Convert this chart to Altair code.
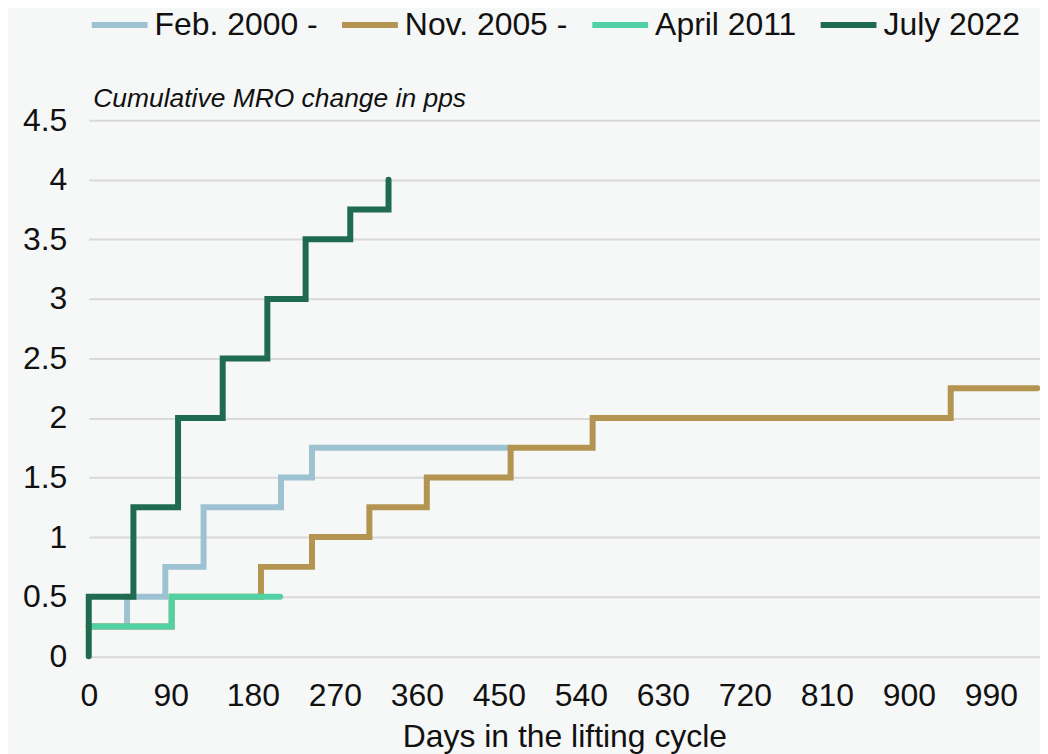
import altair as alt
import pandas as pd

series_names = ["Feb. 2000 -", "Nov. 2005 -", "April 2011", "July 2022"]
series_colors = ["#9DC3D3", "#B39450", "#52D1A5", "#1F6B50"]

feb2000_days = [0, 42, 84, 126, 211, 245, 462]
feb2000_vals = [0.25, 0.5, 0.75, 1.25, 1.5, 1.75, 1.75]

nov2005_days = [0, 91, 189, 245, 308, 371, 463, 553, 946, 1041]
nov2005_vals = [0.25, 0.5, 0.75, 1.0, 1.25, 1.5, 1.75, 2.0, 2.25, 2.25]

apr2011_days = [0, 91, 210]
apr2011_vals = [0.25, 0.5, 0.5]

jul2022_days = [0, 0, 49, 98, 147, 196, 238, 287, 329]
jul2022_vals = [0, 0.5, 1.25, 2.0, 2.5, 3.0, 3.5, 3.75, 4.0]

x_ticks = [0, 90, 180, 270, 360, 450, 540, 630, 720, 810, 900, 990]
y_ticks = [0, 0.5, 1, 1.5, 2, 2.5, 3, 3.5, 4, 4.5]

rows = []
for name, days, vals in zip(
    series_names,
    [feb2000_days, nov2005_days, apr2011_days, jul2022_days],
    [feb2000_vals, nov2005_vals, apr2011_vals, jul2022_vals],
):
    for i, (d, v) in enumerate(zip(days, vals)):
        rows.append({"series": name, "day": d, "value": v, "i": i})
df = pd.DataFrame(rows)

FONT = "Liberation Sans"

x_enc = alt.X(
    "day:Q",
    scale=alt.Scale(domain=[0, 1044], nice=False, zero=False),
    axis=alt.Axis(
        values=x_ticks, grid=False, domain=False, ticks=False,
        labelPadding=24, labelFontSize=32, labelFont=FONT, labelColor="#111111",
        labelFlush=False, labelOverlap=False,
        title="Days in the lifting cycle", titleFont=FONT, titleFontSize=32,
        titleFontWeight="normal", titleColor="#111111",
        titleY=91, titleBaseline="alphabetic",
    ),
)
y_enc = alt.Y(
    "value:Q",
    scale=alt.Scale(domain=[0, 4.5], nice=False),
    axis=alt.Axis(
        values=y_ticks, format="~g", grid=True, gridColor="#D9D9D9", gridWidth=2,
        domain=False, ticks=False, labelPadding=22, labelFontSize=32,
        labelFont=FONT, labelColor="#111111",
        title="Cumulative MRO change in pps", titleAngle=0, titleX=4, titleY=-14,
        titleAlign="left", titleBaseline="alphabetic",
        titleFont=FONT, titleFontStyle="italic",
        titleFontSize=26.5, titleFontWeight="normal", titleColor="#111111",
    ),
)
color_enc = alt.Color(
    "series:N",
    scale=alt.Scale(domain=series_names, range=series_colors),
    legend=alt.Legend(
        orient="none", legendX=0, legendY=-126.5, direction="horizontal",
        title=None, symbolType="stroke", symbolSize=3136, symbolStrokeWidth=6,
        labelFontSize=32, labelFont=FONT, labelColor="#111111", labelOffset=4,
        columnPadding=12, padding=0, labelLimit=400, gridAlign="none",
    ),
)

layers = []
for name in series_names:
    layers.append(
        alt.Chart(df)
        .transform_filter(alt.datum.series == name)
        .mark_line(interpolate="step-after", strokeWidth=6, strokeCap="round", strokeJoin="miter")
        .encode(x=x_enc, y=y_enc, color=color_enc, order=alt.Order("i:Q"))
    )

chart = (
    alt.layer(*layers)
    .properties(
        width=954, height=537.5,
        autosize=alt.AutoSizeParams(type="none"),
        padding={"left": 81, "top": 111.5, "right": 0, "bottom": 97},
        background="#F6F7F7",
    )
    .configure_view(stroke=None)
)

chart.save("out.html", embed_options={"renderer": "svg", "actions": False})
